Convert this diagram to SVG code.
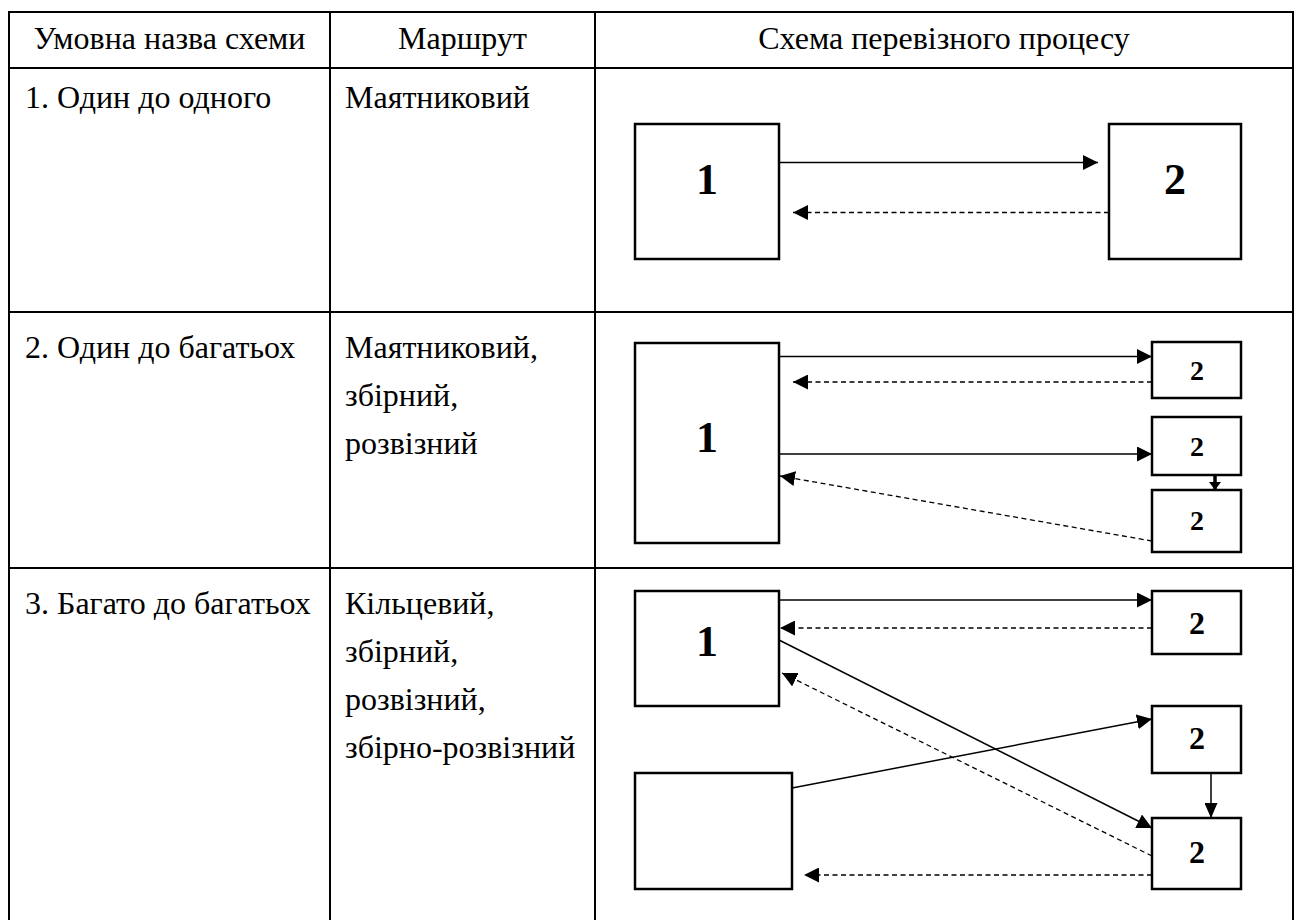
<svg xmlns="http://www.w3.org/2000/svg" width="1298" height="924" viewBox="0 0 1298 924">
  <style>
    .grid { stroke: #000; stroke-width: 2; fill: none; }
    text { font-family: "Liberation Serif", "Times New Roman", serif; fill: #000; }
    .cell { font-size: 32px; }
    .hdr { text-anchor: middle; }
    .box { fill: #fff; stroke: #000; stroke-width: 2.5; }
    .num { font-weight: bold; text-anchor: middle; }
    .big { font-size: 44px; }
    .mid { font-size: 32px; }
    .sm { font-size: 28px; }
    .go { stroke: #000; stroke-width: 1.5; fill: none; marker-end: url(#head); }
    .back { stroke: #000; stroke-width: 1.3; fill: none; stroke-dasharray: 5 3.5; marker-end: url(#head); }
    .step { stroke: #000; stroke-width: 1.5; fill: none; marker-end: url(#head-s); }
  </style>
  <defs>
    <marker id="head" viewBox="0 0 15 15" refX="15" refY="7.5" markerWidth="15" markerHeight="15" markerUnits="userSpaceOnUse" orient="auto">
      <path d="M0,0 L15,7.5 L0,15 Z" fill="#000"/>
    </marker>
    <marker id="head-s" viewBox="0 0 15 13" refX="15" refY="6.5" markerWidth="15" markerHeight="13" markerUnits="userSpaceOnUse" orient="auto">
      <path d="M0,0 L15,6.5 L0,13 Z" fill="#000"/>
    </marker>
    <marker id="head-t" viewBox="0 0 8 12" refX="8" refY="6" markerWidth="8" markerHeight="12" markerUnits="userSpaceOnUse" orient="auto">
      <path d="M0,0 L8,6 L0,12 Z" fill="#000"/>
    </marker>
  </defs>

  <rect x="0" y="0" width="1298" height="924" fill="#fff"/>

  <!-- table frame -->
  <g id="table" class="grid">
    <line x1="9" y1="12" x2="1293" y2="12"/>
    <line x1="9" y1="68" x2="1293" y2="68"/>
    <line x1="9" y1="312" x2="1293" y2="312"/>
    <line x1="9" y1="568" x2="1293" y2="568"/>
    <line x1="9" y1="11" x2="9" y2="920"/>
    <line x1="330" y1="12" x2="330" y2="920"/>
    <line x1="595" y1="12" x2="595" y2="920"/>
    <line x1="1293" y1="11" x2="1293" y2="920"/>
  </g>

  <!-- header -->
  <g id="header" class="cell hdr" font-family="Liberation Serif, serif">
    <text x="169.5" y="49">Умовна назва схеми</text>
    <text x="462.5" y="49">Маршрут</text>
    <text x="944" y="49">Схема перевізного процесу</text>
  </g>

  <!-- row labels -->
  <g id="names" class="cell" font-family="Liberation Serif, serif">
    <text x="25" y="108">1. Один до одного</text>
    <text x="25" y="358">2. Один до багатьох</text>
    <text x="25" y="614">3. Багато до багатьох</text>
  </g>
  <g id="routes" class="cell" font-family="Liberation Serif, serif">
    <text x="345" y="108">Маятниковий</text>
    <text x="345" y="358">Маятниковий,</text>
    <text x="345" y="406">збірний,</text>
    <text x="345" y="454">розвізний</text>
    <text x="345" y="614">Кільцевий,</text>
    <text x="345" y="662">збірний,</text>
    <text x="345" y="710">розвізний,</text>
    <text x="345" y="758">збірно-розвізний</text>
  </g>

  <!-- connectors -->
  <g id="connectors">
    <!-- one to one -->
    <line class="go" x1="779" y1="162.5" x2="1098" y2="162.5"/>
    <line class="back" x1="1109" y1="212.5" x2="793" y2="212.5"/>
    <!-- one to many -->
    <line class="go" x1="779" y1="356.5" x2="1152" y2="356.5"/>
    <line class="back" x1="1152" y1="382" x2="793" y2="382"/>
    <line class="go" x1="779" y1="454" x2="1152" y2="454"/>
    <line class="back" x1="1152" y1="541" x2="780" y2="476"/>
    <line x1="1215" y1="475" x2="1215" y2="490" stroke="#000" stroke-width="3.5" marker-end="url(#head-t)"/>
    <!-- many to many -->
    <line class="go" x1="779" y1="600" x2="1152" y2="600"/>
    <line class="back" x1="1152" y1="628" x2="780" y2="628"/>
    <line class="go" x1="779" y1="640" x2="1152" y2="828"/>
    <line class="back" x1="1152" y1="856" x2="782" y2="673"/>
    <line class="go" x1="792" y1="788" x2="1152" y2="719"/>
    <line class="step" x1="1211" y1="773" x2="1211" y2="818"/>
    <line class="back" x1="1152" y1="875" x2="804" y2="875"/>
  </g>

  <!-- scheme 1 -->
  <g id="s1-origin">
    <rect class="box" x="635" y="124" width="144" height="135"/>
    <text class="num big" x="707" y="194">1</text>
  </g>
  <g id="s1-dest">
    <rect class="box" x="1109" y="124" width="132" height="135"/>
    <text class="num big" x="1175" y="194">2</text>
  </g>

  <!-- scheme 2 -->
  <g id="s2-origin">
    <rect class="box" x="635" y="343" width="144" height="200"/>
    <text class="num big" x="707" y="452">1</text>
  </g>
  <g id="s2-dest-a">
    <rect class="box" x="1152" y="342" width="89" height="56"/>
    <text class="num sm" x="1197" y="380">2</text>
  </g>
  <g id="s2-dest-b">
    <rect class="box" x="1152" y="417" width="89" height="58"/>
    <text class="num sm" x="1197" y="456">2</text>
  </g>
  <g id="s2-dest-c">
    <rect class="box" x="1152" y="490" width="89" height="62"/>
    <text class="num sm" x="1197" y="530">2</text>
  </g>

  <!-- scheme 3 -->
  <g id="s3-origin-a">
    <rect class="box" x="635" y="591" width="144" height="115"/>
    <text class="num big" x="707" y="656">1</text>
  </g>
  <g id="s3-origin-b">
    <rect class="box" x="635" y="773" width="157" height="116"/>
  </g>
  <g id="s3-dest-a">
    <rect class="box" x="1152" y="591" width="89" height="63"/>
    <text class="num mid" x="1197" y="634">2</text>
  </g>
  <g id="s3-dest-b">
    <rect class="box" x="1152" y="706" width="89" height="67"/>
    <text class="num mid" x="1197" y="749">2</text>
  </g>
  <g id="s3-dest-c">
    <rect class="box" x="1152" y="818" width="89" height="71"/>
    <text class="num mid" x="1197" y="863">2</text>
  </g>
</svg>
